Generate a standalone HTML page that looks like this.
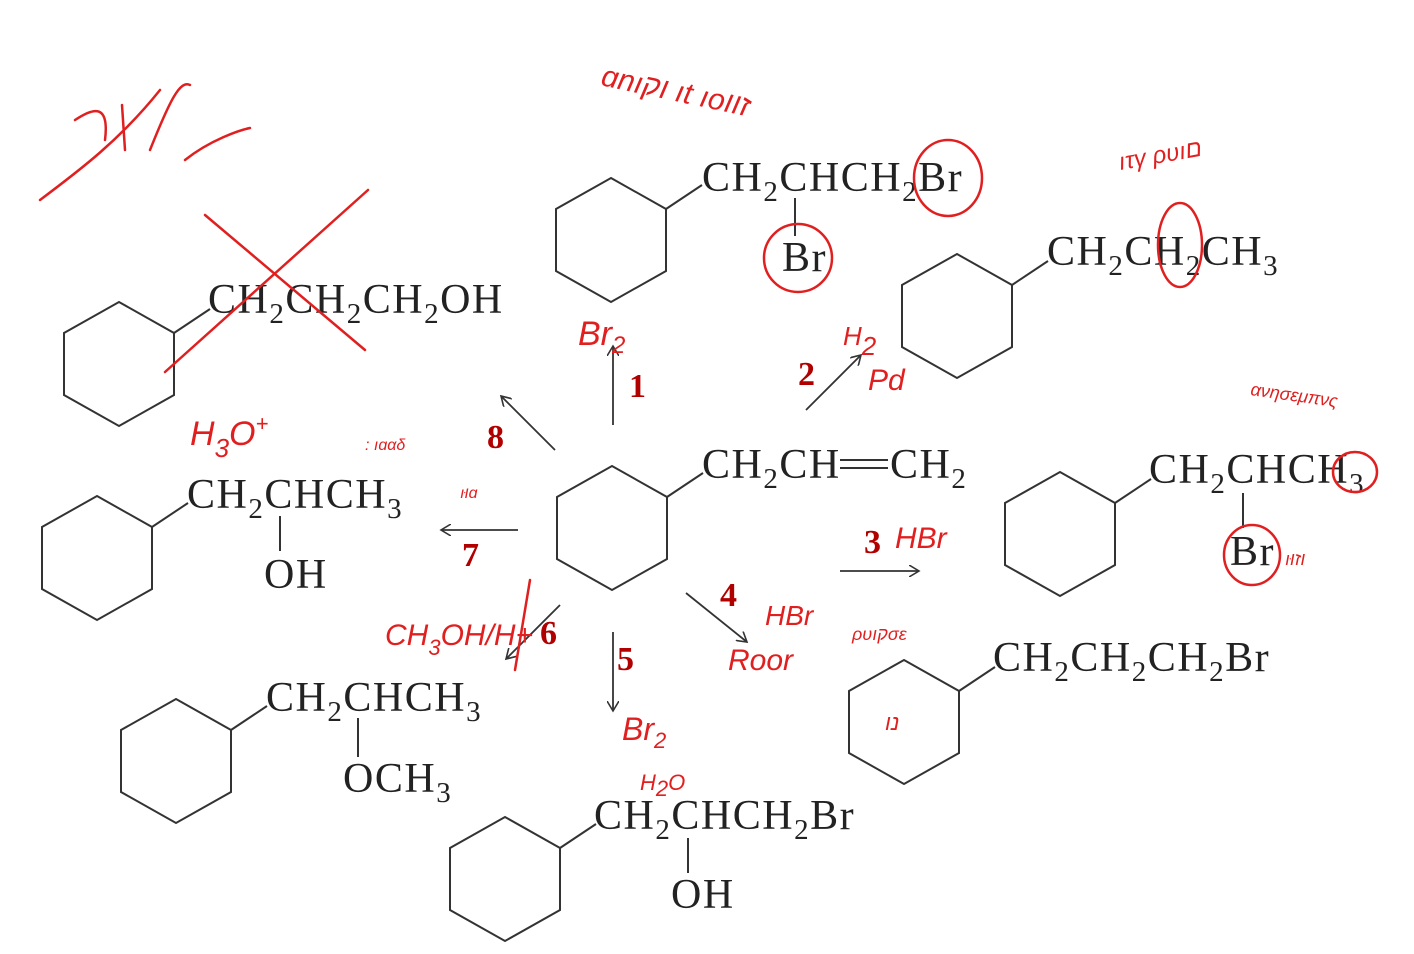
<!DOCTYPE html>
<html><head><meta charset="utf-8"><style>
html,body{margin:0;padding:0;background:#fff;}
svg{display:block;}
.t{font-family:"Liberation Serif",serif;font-size:42px;letter-spacing:1.5px;fill:#222;}
.s{font-size:29px;}
.n{font-family:"Liberation Serif",serif;font-size:34px;font-weight:bold;fill:#b00000;}
.r{font-family:"Liberation Sans","DejaVu Sans",sans-serif;font-style:italic;fill:#e02020;}
</style></head><body>
<svg width="1414" height="954" viewBox="0 0 1414 954" xmlns="http://www.w3.org/2000/svg">
<defs>
<marker id="a" markerWidth="12" markerHeight="12" refX="10" refY="6" orient="auto" markerUnits="userSpaceOnUse">
<path d="M0,0 L10,6 L0,12" fill="none" stroke="#333" stroke-width="1.6"/></marker>
<g id="hx"><polygon points="0,-62 55,-31 55,31 0,62 -55,31 -55,-31" fill="none" stroke="#333" stroke-width="2"/><line x1="55" y1="-31" x2="91" y2="-55" stroke="#333" stroke-width="2"/></g>
</defs>
<g>
<use href="#hx" x="611" y="240"/>
<use href="#hx" x="957" y="316"/>
<use href="#hx" x="119" y="364"/>
<use href="#hx" x="612" y="528"/>
<use href="#hx" x="97" y="558"/>
<use href="#hx" x="1060" y="534"/>
<use href="#hx" x="176" y="761"/>
<use href="#hx" x="904" y="722"/>
<use href="#hx" x="505" y="879"/>
</g>
<g stroke="#333" stroke-width="2">
<line x1="795" y1="198" x2="795" y2="236"/>
<line x1="280" y1="516" x2="280" y2="551"/>
<line x1="358" y1="718" x2="358" y2="757"/>
<line x1="688" y1="838" x2="688" y2="873"/>
<line x1="1243" y1="493" x2="1243" y2="528"/>
<line x1="840" y1="460" x2="888" y2="460"/>
<line x1="840" y1="468" x2="888" y2="468"/>
</g>
<g class="t">
<text x="702" y="191">CH<tspan class="s" dy="10">2</tspan><tspan dy="-10">CHCH</tspan><tspan class="s" dy="10">2</tspan><tspan dy="-10">Br</tspan></text>
<text x="782" y="271">Br</text>
<text x="1047" y="265">CH<tspan class="s" dy="10">2</tspan><tspan dy="-10">CH</tspan><tspan class="s" dy="10">2</tspan><tspan dy="-10">CH</tspan><tspan class="s" dy="10">3</tspan></text>
<text x="208" y="313">CH<tspan class="s" dy="10">2</tspan><tspan dy="-10">CH</tspan><tspan class="s" dy="10">2</tspan><tspan dy="-10">CH</tspan><tspan class="s" dy="10">2</tspan><tspan dy="-10">OH</tspan></text>
<text x="702" y="478">CH<tspan class="s" dy="10">2</tspan><tspan dy="-10">CH</tspan></text>
<text x="890" y="478">CH<tspan class="s" dy="10">2</tspan></text>
<text x="187" y="508">CH<tspan class="s" dy="10">2</tspan><tspan dy="-10">CHCH</tspan><tspan class="s" dy="10">3</tspan></text>
<text x="264" y="588">OH</text>
<text x="1149" y="483">CH<tspan class="s" dy="10">2</tspan><tspan dy="-10">CHCH</tspan><tspan class="s" dy="10">3</tspan></text>
<text x="1230" y="565">Br</text>
<text x="266" y="711">CH<tspan class="s" dy="10">2</tspan><tspan dy="-10">CHCH</tspan><tspan class="s" dy="10">3</tspan></text>
<text x="343" y="792">OCH<tspan class="s" dy="10">3</tspan></text>
<text x="993" y="671">CH<tspan class="s" dy="10">2</tspan><tspan dy="-10">CH</tspan><tspan class="s" dy="10">2</tspan><tspan dy="-10">CH</tspan><tspan class="s" dy="10">2</tspan><tspan dy="-10">Br</tspan></text>
<text x="594" y="829">CH<tspan class="s" dy="10">2</tspan><tspan dy="-10">CHCH</tspan><tspan class="s" dy="10">2</tspan><tspan dy="-10">Br</tspan></text>
<text x="671" y="908">OH</text>
</g>
<g stroke="#333" stroke-width="1.8" marker-end="url(#a)">
<line x1="613" y1="425" x2="613" y2="346"/>
<line x1="806" y1="410" x2="861" y2="355"/>
<line x1="555" y1="450" x2="501" y2="396"/>
<line x1="518" y1="530" x2="441" y2="530"/>
<line x1="840" y1="571" x2="919" y2="571"/>
<line x1="686" y1="593" x2="747" y2="642"/>
<line x1="613" y1="632" x2="613" y2="711"/>
<line x1="560" y1="605" x2="506" y2="659"/>
</g>
<g class="n">
<text x="629" y="397">1</text>
<text x="798" y="385">2</text>
<text x="864" y="553">3</text>
<text x="720" y="606">4</text>
<text x="617" y="670">5</text>
<text x="540" y="644">6</text>
<text x="462" y="566">7</text>
<text x="487" y="448">8</text>
</g>
<g stroke="#e02020" stroke-width="2.5" fill="none" stroke-linecap="round">
<line x1="205" y1="215" x2="365" y2="350"/>
<line x1="165" y1="372" x2="368" y2="190"/>
<ellipse cx="948" cy="178" rx="34" ry="38"/>
<ellipse cx="798" cy="258" rx="34" ry="34"/>
<ellipse cx="1180" cy="245" rx="22" ry="42"/>
<ellipse cx="1355" cy="472" rx="22" ry="20"/>
<ellipse cx="1252" cy="555" rx="28" ry="30"/>
<path d="M40,200 C80,170 120,140 160,90 M150,150 C170,100 180,80 190,85 M185,160 C210,140 240,130 250,128"/>
<path d="M75,120 C90,110 110,100 105,140 M122,105 L125,150"/>
<path d="M515,670 L530,580"/>
</g>
<g class="r">
<text x="600" y="85" font-size="30" transform="rotate(12 600 85)">ɑnıוק ıt ıoזוו</text>
<text x="1120" y="170" font-size="24" transform="rotate(-10 1120 170)">ıτγ ρυıם</text>
<text x="1250" y="395" font-size="18" transform="rotate(8 1250 395)">ανησεμπνς</text>
<text x="578" y="345" font-size="34">Br<tspan font-size="24" dy="8">2</tspan></text>
<text x="843" y="345" font-size="26">H<tspan dy="10">2</tspan></text>
<text x="868" y="390" font-size="30">Pd</text>
<text x="895" y="548" font-size="30">HBr</text>
<text x="765" y="625" font-size="28">HBr</text>
<text x="728" y="670" font-size="30">Roor</text>
<text x="852" y="640" font-size="18">ρυıקσε</text>
<text x="885" y="730" font-size="22">נו</text>
<text x="622" y="740" font-size="32">Br<tspan font-size="22" dy="8">2</tspan></text>
<text x="640" y="790" font-size="22">H<tspan dy="6">2</tspan><tspan dy="-6">O</tspan></text>
<text x="385" y="645" font-size="30">CH<tspan dy="10" font-size="22">3</tspan><tspan dy="-10">OH/H+</tspan></text>
<text x="190" y="445" font-size="34">H<tspan font-size="26" dy="12">3</tspan><tspan dy="-12">O</tspan><tspan font-size="22" dy="-14">+</tspan></text>
<text x="365" y="450" font-size="16">: ıɑαδ</text>
<text x="460" y="498" font-size="16">ıוּɑ</text>
<text x="1285" y="565" font-size="18">ıוזוּ</text>
</g>
</svg>
</body></html>
